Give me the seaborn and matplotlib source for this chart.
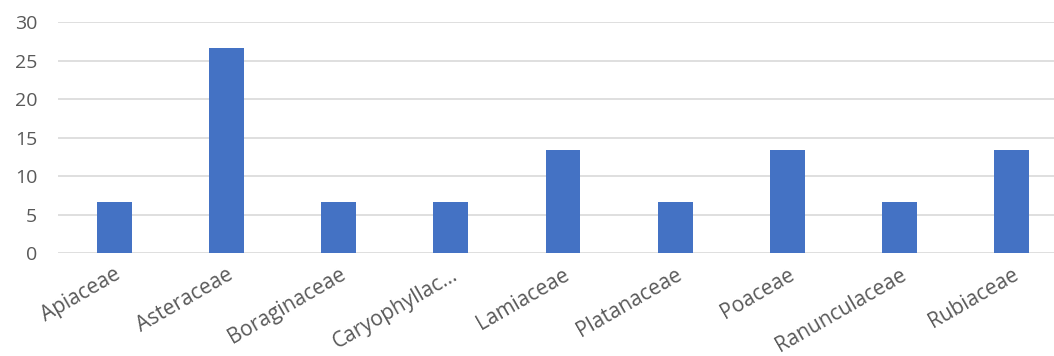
import matplotlib
matplotlib.use("Agg")
import matplotlib.pyplot as plt
import seaborn as sns
import pandas as pd

families = ["Apiaceae", "Asteraceae", "Boraginaceae", "Caryophyllac\u2026", "Lamiaceae",
            "Platanaceae", "Poaceae", "Ranunculaceae", "Rubiaceae"]
shares = [6.67, 26.67, 6.67, 6.67, 13.33, 6.67, 13.33, 6.67, 13.33]
y_ticks = [0, 5, 10, 15, 20, 25, 30]

df = pd.DataFrame({"family": families, "share": shares})

sns.set_theme(style="white")
plt.rcParams["font.family"] = ["Open Sans", "DejaVu Sans"]

fig = plt.figure(figsize=(10.54, 3.56), dpi=100)
ax = fig.add_axes([58 / 1054, (356 - 253) / 356, (1068 - 58) / 1054, (253 - 22.3) / 356])

sns.barplot(data=df, x="family", y="share", color="#4472C4", saturation=1,
            width=0.31, ax=ax, zorder=3, linewidth=0)

ax.set_ylim(0, 30)
ax.set_xlim(-0.5, len(families) - 0.5)
ax.set_yticks(y_ticks)
ax.yaxis.grid(True, color="#D9D9D9", linewidth=1.2, zorder=0)
ax.xaxis.grid(False)
ax.set_axisbelow(True)
for s in ax.spines.values():
    s.set_visible(False)
ax.set_xlabel("")
ax.set_ylabel("")
ax.tick_params(axis="y", length=0, pad=15, labelsize=14, labelcolor="#595959")
ax.tick_params(axis="x", length=0, pad=8, labelsize=15, labelcolor="#595959")
plt.setp(ax.get_xticklabels(), rotation=30, ha="right", rotation_mode="anchor")

fig.savefig("out.png", dpi=100)
